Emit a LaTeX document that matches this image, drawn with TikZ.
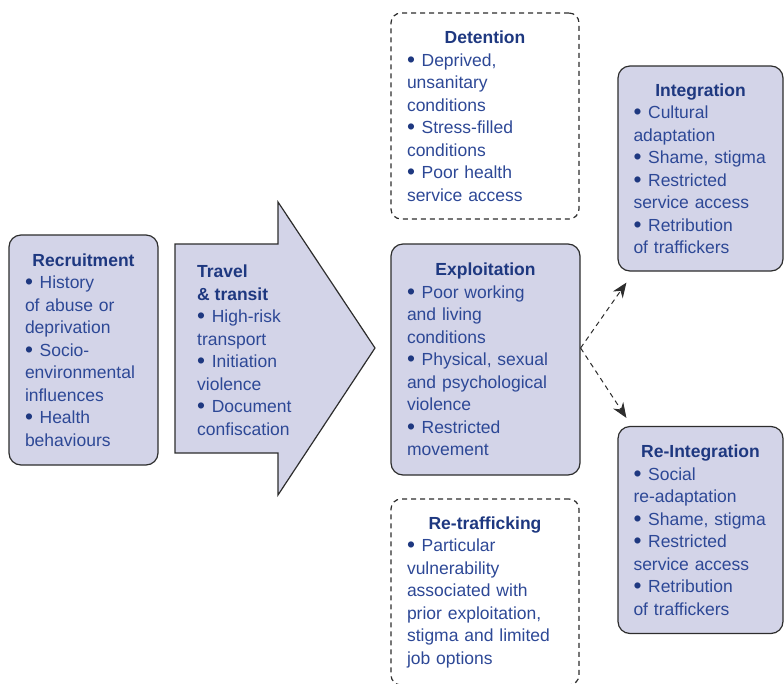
\documentclass[tikz,border=0pt]{standalone}
\usepackage{fontspec}
\setmainfont{Liberation Sans}
\usetikzlibrary{arrows.meta}
\definecolor{boxfill}{RGB}{211,212,232}
\definecolor{headblue}{RGB}{30,56,128}
\definecolor{textblue}{RGB}{45,72,150}
\definecolor{edge}{RGB}{45,45,45}
\newcommand{\arw}{-{Stealth[length=15pt,width=12pt]}}
\newcommand{\hd}[1]{{\centering\color{headblue}\bfseries #1\par}}
\newcommand{\hdl}[1]{{\color{headblue}\bfseries #1}}
\newcommand{\itm}{\raisebox{-0.06em}{\scalebox{1.3}{\color{headblue}\textbullet}}\hspace{0.38em}}

\begin{document}
\begin{tikzpicture}[x=1pt,y=-1pt,
  txt/.style={text=textblue,align=left,font=\fontsize{17.5}{22.5}\selectfont},
  stage/.style={txt,draw=edge,line width=1.2pt,rounded corners=12pt,fill=boxfill,
    inner xsep=0pt,inner ysep=0pt},
  maybe/.style={stage,fill=none,dash pattern=on 5pt off 4pt,rounded corners=10pt}]
\useasboundingbox (0,0) rectangle (784,683);
%recruitment
\node[stage,minimum width=149pt,minimum height=230pt,text width=117pt] (recruit) at (83.5,350)
  {\hd{Recruitment}\itm History\\of abuse or\\deprivation\\\itm Socio-\\environmental\\influences\\\itm Health\\behaviours};
%travel and transit
\draw[draw=edge,line width=1.2pt,fill=boxfill] (175,244) -- (278,244) -- (278,202) -- (375,348)
  -- (278,495) -- (278,453) -- (175,453) -- cycle;
\node[txt,anchor=west,inner sep=0pt] (travel) at (197,350)
  {\hdl{Travel}\\\hdl{\& transit}\\\itm High-risk\\transport\\\itm Initiation\\violence\\\itm Document\\confiscation};
%middle column
\node[maybe,minimum width=188pt,minimum height=206pt,text width=156pt] (detain) at (485,116)
  {\hd{Detention}\itm Deprived,\\unsanitary\\conditions\\\itm Stress-filled\\conditions\\\itm Poor health\\service access};
\node[stage,minimum width=189pt,minimum height=231pt,text width=157pt] (exploit) at (485.5,359.5)
  {\hd{Exploitation}\itm Poor working\\and living\\conditions\\\itm Physical, sexual\\and psychological\\violence\\\itm Restricted\\movement};
\node[maybe,minimum width=188pt,minimum height=186pt,text width=156pt] (retraffic) at (485,592)
  {\hd{Re-trafficking}\itm Particular\\vulnerability\\associated with\\prior exploitation,\\stigma and limited\\job options};
%right column
\node[stage,minimum width=165pt,minimum height=205pt,text width=134pt] (integ) at (700.5,168.5)
  {\hd{Integration}\itm Cultural\\adaptation\\\itm Shame,~stigma\\\itm Restricted\\service access\\\itm Retribution\\of traffickers};
\node[stage,minimum width=165pt,minimum height=207pt,text width=134pt] (reinteg) at (700.5,530)
  {\hd{Re-Integration}\itm Social\\re-adaptation\\\itm Shame,~stigma\\\itm Restricted\\service access\\\itm Retribution\\of traffickers};
%outcomes
\coordinate (fork) at ([yshift=11.5pt]exploit.east);
\coordinate (upend) at ([shift={(9pt,-11pt)}]integ.south west);
\coordinate (downend) at ([shift={(9pt,8pt)}]reinteg.north west);
\draw[draw=edge,line width=1pt,dash pattern=on 5pt off 4pt,\arw] (fork) -- (upend);
\draw[draw=edge,line width=1pt,dash pattern=on 5pt off 4pt,\arw] (fork) -- (downend);
\end{tikzpicture}
\end{document}
